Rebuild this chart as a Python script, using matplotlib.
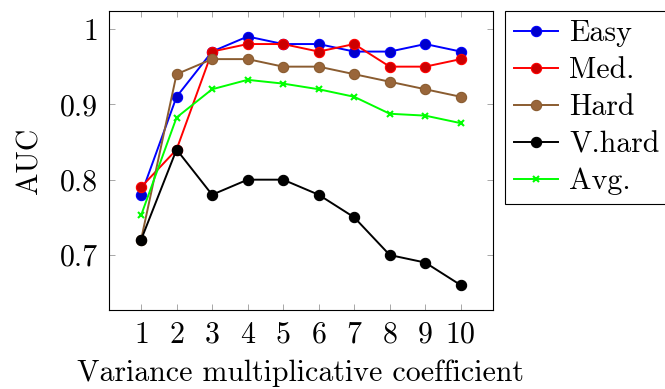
import numpy as np
import matplotlib as mpl
mpl.use('Agg')
import matplotlib.pyplot as plt

plt.rcParams['font.family'] = 'cmr10'
plt.rcParams['mathtext.fontset'] = 'cm'
plt.rcParams['axes.formatter.use_mathtext'] = True
plt.rcParams['font.size'] = 21.5

coef = [1, 2, 3, 4, 5, 6, 7, 8, 9, 10]

easy = [0.78, 0.91, 0.97, 0.99, 0.98, 0.98, 0.97, 0.97, 0.98, 0.97]
med = [0.79, 0.84, 0.97, 0.98, 0.98, 0.97, 0.98, 0.95, 0.95, 0.96]
hard = [0.72, 0.94, 0.96, 0.96, 0.95, 0.95, 0.94, 0.93, 0.92, 0.91]
vhard = [0.72, 0.84, 0.78, 0.80, 0.80, 0.78, 0.75, 0.70, 0.69, 0.66]
avg = [0.7525, 0.8825, 0.92, 0.9325, 0.9275, 0.92, 0.91, 0.8875, 0.885, 0.875]

y_ticks = [0.7, 0.8, 0.9, 1.0]
y_ticklabels = ['0.7', '0.8', '0.9', '1']

fig = plt.figure(figsize=(6.65, 3.89), dpi=100)
ax = fig.add_axes([0.164, 0.203, 0.577, 0.769])

# line colour, marker fill (pgf style: colour!80!black)
styles = [
    (easy, 'Easy', '#0000ff', '#0000cc', 'o'),
    (med, 'Med.', '#ff0000', '#cc0000', 'o'),
    (hard, 'Hard', '#8a5c30', '#99663a', 'o'),
    (vhard, 'V.hard', '#000000', '#000000', 'o'),
]
for vals, name, c, fc, m in styles:
    ax.plot(coef, vals, color=c, lw=1.4, marker=m, ms=7.4,
            mfc=fc, mec=c, mew=0.8, label=name)
ax.plot(coef, avg, color='#00ff00', lw=1.4, marker='x', ms=5, mew=1.5,
        label='Avg.')

ax.set_xlim(0.1, 10.9)
ax.set_ylim(0.627, 1.024)
ax.set_xticks(coef)
ax.set_yticks(y_ticks)
ax.set_yticklabels(y_ticklabels)
ax.tick_params(direction='in', length=4, width=0.6, color='#999999',
               top=True, right=True)
ax.tick_params(axis='x', pad=8)
ax.tick_params(axis='y', pad=8)
for s in ax.spines.values():
    s.set_linewidth(0.8)

ax.set_xlabel('Variance multiplicative coefficient', labelpad=8)
ax.set_ylabel('AUC', labelpad=12)

leg = fig.legend(loc='upper left', bbox_to_anchor=(0.759, 0.972),
                 fancybox=False, edgecolor='black', framealpha=1,
                 handlelength=1.5, handletextpad=0.35, borderpad=0.3,
                 labelspacing=0.32, borderaxespad=0)
leg.get_frame().set_linewidth(0.8)

fig.savefig('out.png', dpi=100)
